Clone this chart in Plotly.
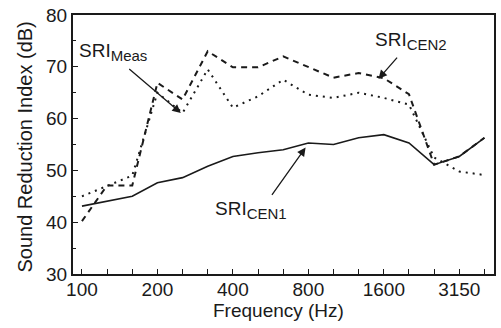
import plotly.graph_objects as go

# One-third octave band centre frequencies (Hz)
freqs = [100, 125, 160, 200, 250, 315, 400, 500, 630, 800, 1000, 1250, 1600, 2000, 2500, 3150, 4000]
tick_labels = ["100", "200", "400", "800", "1600", "3150"]
tick_label_freqs = [100, 200, 400, 800, 1600, 3150]

sri_cen1 = [43.1, 44.0, 45.0, 47.6, 48.6, 50.8, 52.7, 53.4, 54.0, 55.3, 55.0, 56.3, 56.9, 55.3, 51.1, 52.7, 56.3]
sri_cen2 = [40.2, 47.1, 47.1, 66.9, 63.7, 73.0, 69.9, 69.9, 72.0, 70.0, 67.9, 68.8, 67.8, 64.7, 51.1, 52.7, 56.3]
sri_meas = [45.0, 47.0, 49.0, 65.0, 61.1, 69.5, 62.1, 64.3, 67.5, 64.6, 64.0, 65.0, 64.0, 62.7, 52.5, 49.8, 49.1]

idx = list(range(len(freqs)))
tick_idx = [freqs.index(f) for f in tick_label_freqs]

ink = "#1a1a1a"
fig = go.Figure()
fig.add_trace(go.Scatter(x=idx, y=sri_cen1, mode="lines", line=dict(color=ink, width=1.6), showlegend=False))
fig.add_trace(go.Scatter(x=idx, y=sri_cen2, mode="lines", line=dict(color=ink, width=2, dash="6px,5px"), showlegend=False))
fig.add_trace(go.Scatter(x=idx, y=sri_meas, mode="lines", line=dict(color=ink, width=2, dash="2px,5px"), showlegend=False))

font_main = "Liberation Sans, Arial, Helvetica, sans-serif"

def sri(sub):
    return "SRI<sub><span style='font-size:15px'>" + sub + "</span></sub>"

# labels
labels = [
    (sri("Meas"), -0.2, 75.6),
    (sri("CEN2"), 11.55, 77.6),
    (sri("CEN1"), 5.22, 45.1),
]
for txt, xx, yy in labels:
    fig.add_annotation(x=xx, y=yy, text=txt, showarrow=False, xanchor="left", yanchor="top",
                       font=dict(size=19, color=ink, family=font_main))

arrows = [
    (3.93, 61.1, 1.82, 69.8),
    (11.79, 67.7, 12.58, 72.05),
    (8.89, 54.4, 7.51, 45.0),
]
for x1, y1, x0, y0 in arrows:
    fig.add_annotation(x=x1, y=y1, ax=x0, ay=y0, axref="x", ayref="y", xref="x", yref="y",
                       text="", showarrow=True, arrowhead=2, arrowsize=1.3, arrowwidth=1.3,
                       arrowcolor=ink, standoff=0, startstandoff=0)

# axis titles
fig.add_annotation(x=0.489, y=-0.142, xref="paper", yref="paper", text="Frequency (Hz)",
                   showarrow=False, xanchor="center", yanchor="middle",
                   font=dict(size=19, color=ink, family=font_main))
fig.add_annotation(x=-0.113, y=0.49, xref="paper", yref="paper", text="Sound Reduction Index (dB)",
                   showarrow=False, xanchor="center", yanchor="middle", textangle=-90,
                   font=dict(size=20, color=ink, family=font_main))

fig.update_xaxes(
    range=[-0.356, 16.38], tickmode="array", tickvals=tick_idx, ticktext=tick_labels,
    ticks="inside", ticklen=5, tickwidth=1.3, tickcolor=ink, ticklabelstandoff=-3,
    minor=dict(tickmode="array", tickvals=idx, ticks="inside", ticklen=5, tickwidth=1.3, tickcolor=ink),
    showline=True, linewidth=2, linecolor=ink, mirror=True, showgrid=False, zeroline=False,
    tickfont=dict(size=19, color=ink, family=font_main),
)
fig.update_yaxes(
    range=[30, 80], tickmode="array", tickvals=[30, 40, 50, 60, 70, 80],
    ticks="inside", ticklen=5, tickwidth=1.3, tickcolor=ink,
    minor=dict(tickmode="array", tickvals=[35, 45, 55, 65, 75], ticks="inside", ticklen=3, tickwidth=1.2, tickcolor=ink),
    showline=True, linewidth=2, linecolor=ink, mirror=True, showgrid=False, zeroline=False,
    tickfont=dict(size=19, color=ink, family=font_main),
)
fig.update_layout(
    width=501, height=328, margin=dict(l=73, r=5, t=15, b=54),
    paper_bgcolor="white", plot_bgcolor="white",
)
fig.write_html("out.html")
